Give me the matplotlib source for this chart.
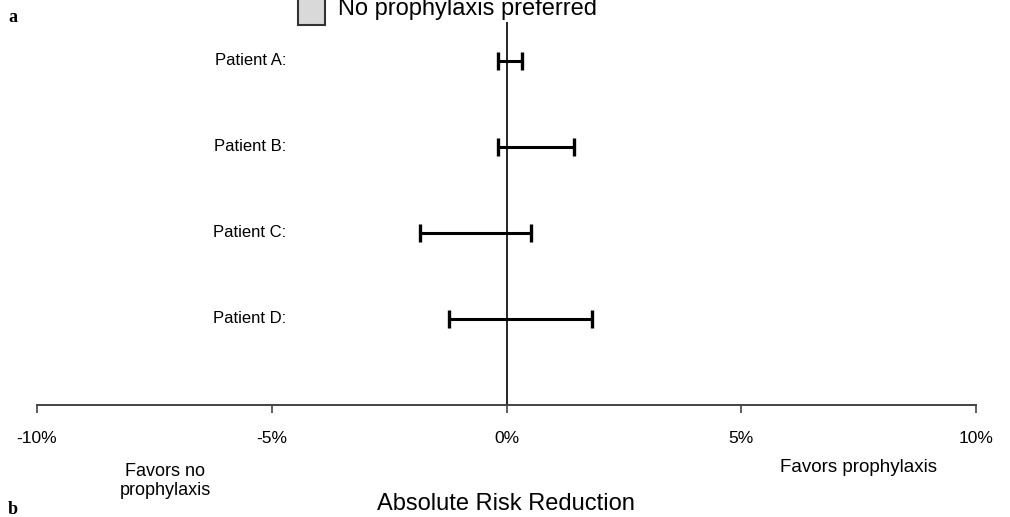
import matplotlib
matplotlib.use("Agg")
import matplotlib.pyplot as plt
from matplotlib.patches import Rectangle

# data (absolute risk reduction, %)
patients = ["Patient A:", "Patient B:", "Patient C:", "Patient D:"]
low = [-0.18, -0.18, -1.84, -1.22]
high = [0.33, 1.44, 0.52, 1.83]
ticks = [-10, -5, 0, 5, 10]
tick_labels = ["-10%", "-5%", "0%", "5%", "10%"]

W, H = 1010, 517
sans = ["Liberation Sans", "DejaVu Sans"]
serif = ["Liberation Serif", "DejaVu Serif"]

fig = plt.figure(figsize=(W / 100, H / 100), dpi=100)
ax = fig.add_axes([37 / W, (H - 405) / H, (976 - 37) / W, (405 - 22) / H])

ypos = [4, 3, 2, 1]
mid = [(l + h) / 2 for l, h in zip(low, high)]
err = [(h - l) / 2 for l, h in zip(low, high)]
ax.errorbar(mid, ypos, xerr=err, fmt="none", ecolor="black",
            elinewidth=2.2, capsize=6.5, capthick=2.4)
ax.axvline(0, color="black", lw=1.2)

ax.set_xlim(-10, 10)
ax.set_ylim(0, 4.45)
for s in ["top", "left", "right"]:
    ax.spines[s].set_visible(False)
ax.spines["bottom"].set_color("#444444")
ax.spines["bottom"].set_linewidth(1.4)
ax.set_yticks([])
ax.set_xticks(ticks)
ax.set_xticklabels(tick_labels, family=sans, fontsize=12.5)
ax.tick_params(axis="x", length=6, width=1.2, color="#444444", pad=13)

# patient labels
for name, y in zip(patients, ypos):
    ax.annotate(name, xy=(0, y), xycoords=("figure fraction", "data"),
                xytext=(286, 0), textcoords="offset pixels",
                ha="right", va="center", family=sans, fontsize=12)

fig.text(165 / W, 1 - 481 / H, "Favors no\nprophylaxis", ha="center",
         va="center", family=sans, fontsize=13, linespacing=1.1)
fig.text(858 / W, 1 - 467 / H, "Favors prophylaxis", ha="center",
         va="center", family=sans, fontsize=13.5)
fig.text(506 / W, 1 - 504 / H, "Absolute Risk Reduction", ha="center",
         va="center", family=sans, fontsize=17)

# legend fragment at the top
fig.patches.append(Rectangle((298 / W, 1 - 25 / H), 27 / W, 30 / H,
                             transform=fig.transFigure, facecolor="#d9d9d9",
                             edgecolor="#333333", lw=1.5))
fig.text(338 / W, 1 - 15 / H, "No prophylaxis preferred", ha="left",
         va="baseline", family=sans, fontsize=17)

# panel letters
fig.text(8 / W, 1 - 17 / H, "a", family=serif, fontweight="bold",
         fontsize=13, va="center")
fig.text(8 / W, 1 - 510 / H, "b", family=serif, fontweight="bold",
         fontsize=13, va="center")

fig.savefig("out.png", dpi=100)
